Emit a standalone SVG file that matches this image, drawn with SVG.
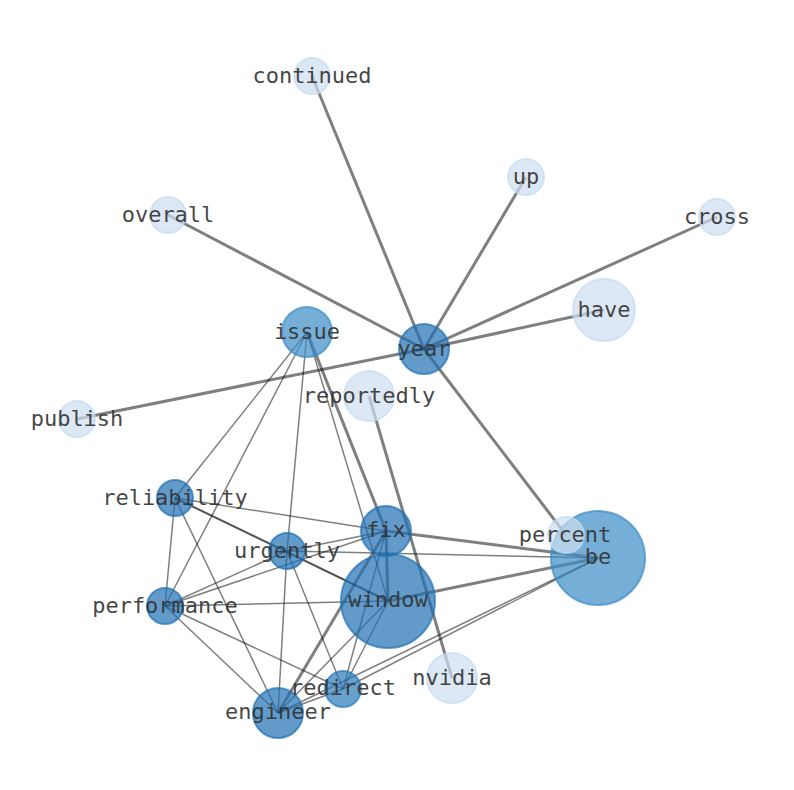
<svg xmlns="http://www.w3.org/2000/svg" width="794" height="790" viewBox="0 0 794 790">
<style>
.e{stroke:#000;stroke-opacity:0.5;stroke-linecap:butt;fill:none}
.t{stroke-width:3}
.n{stroke-width:1.5}
.d{stroke-width:2;stroke-opacity:0.68}
circle{stroke-width:2;fill-opacity:0.7;stroke-opacity:0.7}
.L{fill:#cddef1;stroke:#c6dbef}
.M{fill:#3a8cc5;stroke:#3a8cc5}
.D{fill:#2070b4;stroke:#2070b4}
.R{fill:#2a7ab9;stroke:#2a7ab9}
text{font-family:"DejaVu Sans Mono","Liberation Mono",monospace;font-size:22px;fill:#333;fill-opacity:0.92;text-anchor:middle}
</style>
<rect width="794" height="790" fill="#fff"/>
<g id="edges">
<line class="e t" x1="424" y1="349" x2="312" y2="76"/>
<line class="e t" x1="424" y1="349" x2="526" y2="177"/>
<line class="e t" x1="424" y1="349" x2="168" y2="215"/>
<line class="e t" x1="424" y1="349" x2="717" y2="217"/>
<line class="e t" x1="424" y1="349" x2="604" y2="310"/>
<line class="e t" x1="424" y1="349" x2="77" y2="419"/>
<line class="e t" x1="424" y1="349" x2="566" y2="535"/>
<line class="e t" x1="307" y1="332" x2="386" y2="531"/>
<line class="e t" x1="386" y1="531" x2="388" y2="601"/>
<line class="e t" x1="386" y1="531" x2="598" y2="558"/>
<line class="e t" x1="388" y1="601" x2="598" y2="558"/>
<line class="e t" x1="386" y1="531" x2="278" y2="713"/>
<line class="e t" x1="369" y1="396" x2="452" y2="678"/>
<line class="e n" x1="307" y1="332" x2="175" y2="498"/>
<line class="e n" x1="307" y1="332" x2="165" y2="606"/>
<line class="e n" x1="307" y1="332" x2="287" y2="551"/>
<line class="e n" x1="307" y1="332" x2="388" y2="601"/>
<line class="e n" x1="175" y1="498" x2="386" y2="531"/>
<line class="e n" x1="175" y1="498" x2="165" y2="606"/>
<line class="e n" x1="175" y1="498" x2="278" y2="713"/>
<line class="e d" x1="175" y1="498" x2="388" y2="601"/>
<line class="e n" x1="287" y1="551" x2="386" y2="531"/>
<line class="e n" x1="287" y1="551" x2="598" y2="558"/>
<line class="e n" x1="287" y1="551" x2="343" y2="689"/>
<line class="e n" x1="287" y1="551" x2="278" y2="713"/>
<line class="e n" x1="287" y1="551" x2="165" y2="606"/>
<line class="e n" x1="165" y1="606" x2="386" y2="531"/>
<line class="e n" x1="165" y1="606" x2="388" y2="601"/>
<line class="e n" x1="165" y1="606" x2="278" y2="713"/>
<line class="e n" x1="165" y1="606" x2="343" y2="689"/>
<line class="e n" x1="386" y1="531" x2="343" y2="689"/>
<line class="e n" x1="388" y1="601" x2="343" y2="689"/>
<line class="e n" x1="388" y1="601" x2="278" y2="713"/>
<line class="e n" x1="278" y1="713" x2="343" y2="689"/>
<line class="e n" x1="343" y1="689" x2="598" y2="558"/>
<line class="e n" x1="278" y1="713" x2="598" y2="558"/>
</g>
<g id="node-continued"><circle class="L" cx="312" cy="76" r="18"/><text x="312" y="83">continued</text></g>
<g id="node-up"><circle class="L" cx="526" cy="177" r="18"/><text x="526" y="184">up</text></g>
<g id="node-overall"><circle class="L" cx="168" cy="215" r="18"/><text x="168" y="222">overall</text></g>
<g id="node-cross"><circle class="L" cx="717" cy="217" r="18"/><text x="717" y="224">cross</text></g>
<g id="node-have"><circle class="L" cx="604" cy="310" r="31"/><text x="604" y="317">have</text></g>
<g id="node-issue"><circle class="M" cx="307" cy="332" r="25"/><text x="307" y="339">issue</text></g>
<g id="node-year"><circle class="D" cx="424" cy="349" r="25"/><text x="424" y="356">year</text></g>
<g id="node-reportedly"><circle class="L" cx="369" cy="396" r="25"/><text x="369" y="403">reportedly</text></g>
<g id="node-publish"><circle class="L" cx="77" cy="419" r="18"/><text x="77" y="426">publish</text></g>
<g id="node-reliability"><circle class="D" cx="175" cy="498" r="18"/><text x="175" y="505">reliability</text></g>
<g id="node-urgently"><circle class="D" cx="287" cy="551" r="18"/><text x="287" y="558">urgently</text></g>
<g id="node-performance"><circle class="D" cx="165" cy="606" r="18"/><text x="165" y="613">performance</text></g>
<g id="node-be"><circle class="M" cx="598" cy="558" r="47"/><text x="598" y="564">be</text></g>
<g id="node-percent"><circle class="L" cx="566" cy="535" r="18"/><text x="565" y="542">percent</text></g>
<g id="node-fix"><circle class="D" cx="386" cy="531" r="25"/><text x="386" y="537">fix</text></g>
<g id="node-window"><circle class="D" cx="388" cy="601" r="47"/><text x="388" y="607">window</text></g>
<g id="node-nvidia"><circle class="L" cx="452" cy="678" r="25"/><text x="452" y="685">nvidia</text></g>
<g id="node-engineer"><circle class="D" cx="278" cy="713" r="25"/><text x="278" y="719">engineer</text></g>
<g id="node-redirect"><circle class="R" cx="343" cy="689" r="18"/><text x="343" y="695">redirect</text></g>
</svg>
